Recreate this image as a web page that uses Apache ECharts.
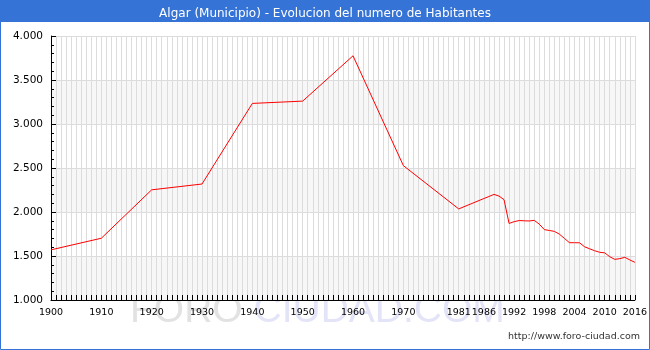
<!DOCTYPE html>
<html lang="es" style="height: 100%">
<head>
  <meta charset="utf-8">
  <script type="text/javascript" src="https://cdn.jsdelivr.net/npm/echarts@6/dist/echarts.min.js"></script>
</head>
<body style="height: 100%; margin: 0">
  <div id="container" style="width: 650px; height: 350px"></div>
  <script type="text/javascript">
    // habitantes por año
    var years = [1900, 1910, 1920, 1930, 1940, 1950, 1960, 1970, 1981, 1986, 1987, 1988, 1989, 1990,
      1991, 1992, 1993, 1994, 1995, 1996, 1997, 1998, 1999, 2000, 2001, 2002, 2003, 2004, 2005,
      2006, 2007, 2008, 2009, 2010, 2011, 2012, 2013, 2014, 2015, 2016];
    var habitantes = [1570, 1702, 2252, 2318, 3234, 3260, 3775, 2527, 2035, 2153, 2176, 2200, 2181, 2140,
      1870, 1890, 1903, 1900, 1898, 1905, 1862, 1800, 1790, 1780, 1748, 1700, 1651, 1651, 1650,
      1605, 1582, 1560, 1542, 1536, 1492, 1462, 1470, 1485, 1455, 1428];
    var xLabels = [1900, 1910, 1920, 1930, 1940, 1950, 1960, 1970, 1981, 1986, 1992, 1998, 2004, 2010, 2016];

    var dom = document.getElementById('container');
    var myChart = echarts.init(dom, null, { renderer: 'canvas' });

    var option = {
      backgroundColor: '#fff',
      animation: false,
      title: {
        text: 'Algar (Municipio) - Evolucion del numero de Habitantes',
        left: 'center',
        top: 3,
        textStyle: { color: '#fff', fontSize: 12, fontWeight: 'normal', fontFamily: 'DejaVu Sans' }
      },
      graphic: [
        { type: 'rect', z: -10, shape: { x: 0, y: 0, width: 650, height: 22 }, style: { fill: '#3673d6' } },
        { type: 'rect', z: 100, shape: { x: 0.5, y: 0.5, width: 649, height: 349 }, style: { fill: null, stroke: '#3673d6', lineWidth: 1 } },
        {
          type: 'text', z: -5, left: 130, top: 292,
          style: {
            text: '{a|FORO }{b|CIUDAD.COM}',
            rich: {
              a: { fontSize: 39, fontFamily: 'Liberation Sans', fill: '#e2e2e2' },
              b: { fontSize: 39, fontFamily: 'Liberation Sans', fill: '#e4e4f8' }
            }
          }
        },
        {
          type: 'text', right: 10, top: 332,
          style: { text: 'http://www.foro-ciudad.com', fontSize: 9.5, fontFamily: 'DejaVu Sans', fill: '#333' }
        }
      ],
      grid: { left: 51, right: 15, top: 36, bottom: 50 },
      xAxis: {
        type: 'value',
        min: 1900,
        max: 2016,
        interval: 1,
        axisLine: { lineStyle: { color: '#000', width: 1 } },
        axisTick: { inside: true, length: 5, lineStyle: { color: '#000' } },
        splitLine: { show: true, lineStyle: { color: '#dcdcdc', width: 1 } },
        axisLabel: {
          color: '#000',
          fontSize: 9.5,
          fontFamily: 'DejaVu Sans',
          margin: 8,
          formatter: function (v) {
            return xLabels.indexOf(v) >= 0 ? String(v) : '';
          }
        }
      },
      yAxis: {
        type: 'value',
        min: 1000,
        max: 4000,
        interval: 500,
        axisLine: { show: true, lineStyle: { color: '#000', width: 1 } },
        axisTick: { show: true, inside: true, length: 5, lineStyle: { color: '#000' } },
        minorTick: { show: true, splitNumber: 5, length: 3, lineStyle: { color: '#000' } },
        splitLine: { show: true, lineStyle: { color: '#dcdcdc', width: 1 } },
        splitArea: { show: true, areaStyle: { color: ['#f7f7f7', '#ffffff'] } },
        axisLabel: {
          color: '#000',
          fontSize: 10.5,
          fontFamily: 'DejaVu Sans',
          margin: 8,
          formatter: function (v) {
            return String(v).replace(/\B(?=(\d{3})+(?!\d))/g, '.');
          }
        }
      },
      series: [{
        type: 'line',
        data: years.map(function (y, i) { return [y, habitantes[i]]; }),
        showSymbol: false,
        lineStyle: { color: '#ff0000', width: 1 },
        z: 5
      }]
    };

    myChart.setOption(option);
  </script>
</body>
</html>
